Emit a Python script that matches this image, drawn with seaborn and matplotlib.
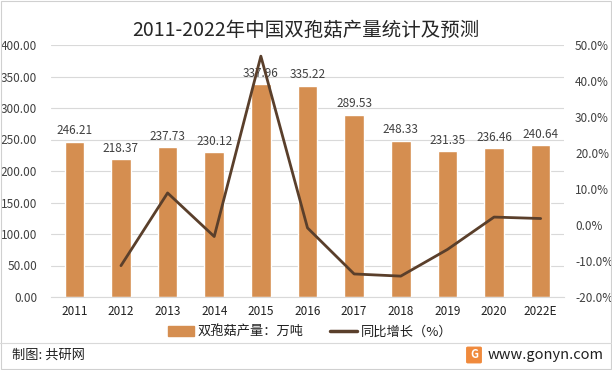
import matplotlib
matplotlib.use("Agg")
import matplotlib.pyplot as plt
from matplotlib.patches import Rectangle, FancyBboxPatch
from matplotlib.lines import Line2D
from matplotlib.ticker import FuncFormatter, MultipleLocator
import seaborn as sns
import pandas as pd
import numpy as np

sns.set_style("white")
plt.rcParams['font.family'] = ['Noto Sans CJK SC', 'DejaVu Sans']

# data
years = ['2011', '2012', '2013', '2014', '2015', '2016', '2017', '2018', '2019', '2020', '2022E']
output = [246.21, 218.37, 237.73, 230.12, 337.96, 335.22, 289.53, 248.33, 231.35, 236.46, 240.64]
growth = [np.nan, -11.3, 8.9, -3.2, 46.9, -0.8, -13.6, -14.2, -6.8, 2.2, 1.8]

bar_color = '#D58E50'
line_color = '#5A3F2B'
text_color = '#404040'

df = pd.DataFrame({'year': years, 'output': output, 'growth': growth})
df['pos'] = np.arange(len(df))

fig = plt.figure(figsize=(6.12, 3.7), dpi=100)
ax = fig.add_axes([51 / 612, 73 / 370, 513 / 612, 252 / 370])

sns.barplot(data=df, x='year', y='output', color=bar_color, width=0.42,
            saturation=1, ax=ax, zorder=2)
ax.set_ylim(0, 400)
ax.yaxis.set_major_locator(MultipleLocator(50))
ax.yaxis.set_major_formatter(FuncFormatter(lambda v, p: f'{v:.2f}'))
ax.grid(axis='y', color='#D9D9D9', linewidth=0.8, zorder=0)
ax.set_axisbelow(True)
for s in ['top', 'right', 'left']:
    ax.spines[s].set_visible(False)
ax.spines['bottom'].set_color('#D9D9D9')
ax.set_xlabel('')
ax.set_ylabel('')
ax.tick_params(axis='y', length=0, pad=10, labelsize=8.5, labelcolor=text_color)
ax.tick_params(axis='x', length=0, pad=6, labelsize=8.5, labelcolor='#202020')

for i, v in enumerate(output):
    ax.text(i, v + 7, f'{v:.2f}', ha='center', va='bottom', fontsize=8.5, color=text_color, zorder=3)

ax2 = ax.twinx()
sns.lineplot(data=df, x='pos', y='growth', color=line_color, linewidth=2, ax=ax2, zorder=4)
ax2.set_ylim(-20, 50)
ax2.yaxis.set_major_locator(MultipleLocator(10))
ax2.yaxis.set_major_formatter(FuncFormatter(lambda v, p: f'{v:.1f}%'))
for s in ax2.spines.values():
    s.set_visible(False)
ax2.set_ylabel('')
ax2.tick_params(axis='y', length=0, pad=8, labelsize=8.5, labelcolor=text_color)
ax.set_xlim(-0.5, len(years) - 0.5)

fig.text(0.5, 340 / 370, '2011-2022年中国双孢菇产量统计及预测', ha='center', va='center',
         fontsize=14, color='#262626', fontweight='light')

handles = [Rectangle((0, 0), 1, 1, color=bar_color),
           Line2D([0], [0], color=line_color, linewidth=2.5)]
fig.legend(handles, ['双孢菇产量：万吨', '同比增长（%）'], loc='center',
           bbox_to_anchor=(310 / 612, 1 - 332 / 370), ncol=2, frameon=False,
           fontsize=9.5, handlelength=2.0, handleheight=0.7, columnspacing=2.0,
           handletextpad=0.3, labelcolor='#202020')

# footer
fig.add_artist(Line2D([0, 1], [1 - 343 / 370] * 2, color='#D9D9D9', linewidth=0.8))
fig.text(12 / 612, 1 - 355 / 370, '制图: 共研网', ha='left', va='center', fontsize=9.5,
         color='#202020')
fig.add_artist(FancyBboxPatch((468 / 612, 1 - 362 / 370), 12 / 612, 14 / 370,
                              boxstyle='round,pad=0.002', color='#F08A3C',
                              transform=fig.transFigure))
fig.text(474 / 612, 1 - 355 / 370, 'G', ha='center', va='center', fontsize=8,
         color='white', fontweight='bold')
fig.text(488 / 612, 1 - 355 / 370, 'www.gonyn.com', ha='left', va='center', fontsize=10.5,
         color='#202020')

fig.add_artist(Rectangle((0.001, 0.002), 0.997, 0.995, fill=False, edgecolor='#D0D0D0',
                         linewidth=0.8, transform=fig.transFigure))

fig.savefig('out.png', dpi=100)
